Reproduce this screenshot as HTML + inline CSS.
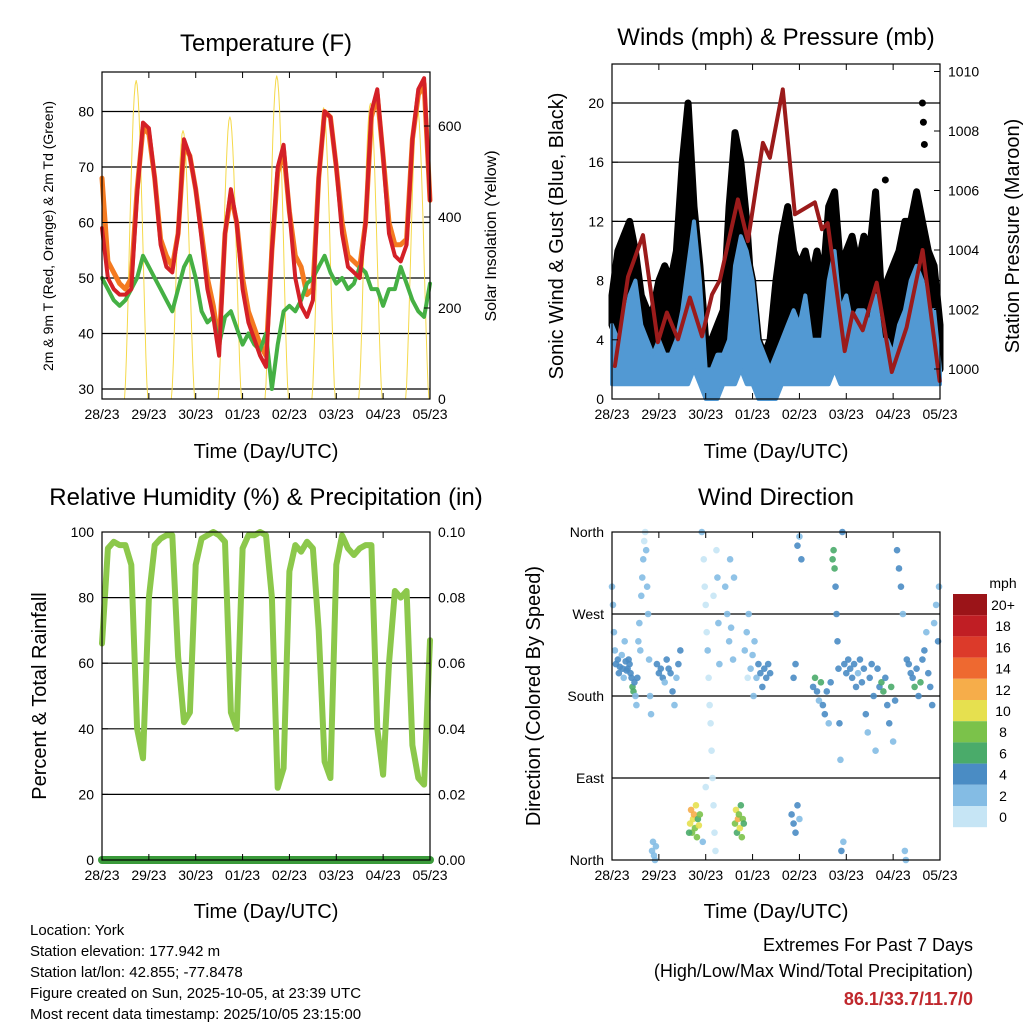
<!DOCTYPE html>
<html><head><meta charset="utf-8"><style>
html,body{margin:0;padding:0;background:#fff;}
svg{display:block;font-family:"Liberation Sans",sans-serif;}
</style></head><body>
<svg id="c" width="1024" height="1024" viewBox="0 0 1024 1024">
<rect width="1024" height="1024" fill="#fff"/>
<text x="266" y="51" font-size="24" text-anchor="middle">Temperature (F)</text>
<text x="776" y="45" font-size="24" text-anchor="middle">Winds (mph) &amp; Pressure (mb)</text>
<text x="266" y="505" font-size="24" text-anchor="middle">Relative Humidity (%) &amp; Precipitation (in)</text>
<text x="776" y="505" font-size="24" text-anchor="middle">Wind Direction</text>
<text x="266" y="458" font-size="20" text-anchor="middle">Time (Day/UTC)</text>
<text x="776" y="458" font-size="20" text-anchor="middle">Time (Day/UTC)</text>
<text x="266" y="918" font-size="20" text-anchor="middle">Time (Day/UTC)</text>
<text x="776" y="918" font-size="20" text-anchor="middle">Time (Day/UTC)</text>
<text transform="translate(53,236) rotate(-90)" font-size="14" text-anchor="middle">2m &amp; 9m T (Red, Orange) &amp; 2m Td (Green)</text>
<text transform="translate(496,236) rotate(-90)" font-size="16" text-anchor="middle">Solar Insolation (Yellow)</text>
<text transform="translate(563,236) rotate(-90)" font-size="20" text-anchor="middle">Sonic Wind &amp; Gust (Blue, Black)</text>
<text transform="translate(1019,236) rotate(-90)" font-size="20" text-anchor="middle">Station Pressure (Maroon)</text>
<text transform="translate(46,696) rotate(-90)" font-size="20" text-anchor="middle">Percent &amp; Total Rainfall</text>
<text transform="translate(540,696) rotate(-90)" font-size="20" text-anchor="middle">Direction (Colored By Speed)</text>
<g font-size="15">
<text x="30" y="935">Location: York</text>
<text x="30" y="956">Station elevation: 177.942 m</text>
<text x="30" y="977">Station lat/lon: 42.855; -77.8478</text>
<text x="30" y="998">Figure created on Sun, 2025-10-05, at 23:39 UTC</text>
<text x="30" y="1019">Most recent data timestamp: 2025/10/05 23:15:00</text>
</g>
<g font-size="18" text-anchor="end">
<text x="973" y="951">Extremes For Past 7 Days</text>
<text x="973" y="977">(High/Low/Max Wind/Total Precipitation)</text>
<text x="973" y="1005" fill="#c0282d" font-weight="bold">86.1/33.7/11.7/0</text>
</g>
<g id="layer"></g>
</svg>
<script>
const dayLabels=["28/23","29/23","30/23","01/23","02/23","03/23","04/23","05/23"];
const tempRed=[59,50,48,47,47,48,65,78,77,68,56,52,51,58,75,72,66,57,48,43,36,58,66,60,48,42,39,36,34,55,70,74,62,50,45,43,46,68,80,79,70,58,52,51,50,60,80,84,72,58,54,53,56,75,84,86,64];
const tempOrange=[68,53,51,49,48,50,66,77,76,68,57,54,52,58,74,72,66,58,50,45,38,58,65,60,50,44,41,38,36,55,69,73,62,54,52,47,48,68,80,79,70,60,54,53,52,60,79,83,72,60,56,56,57,75,83,85,64];
const dewGreen=[50,48,46,45,46,48,50,54,52,50,48,46,44,48,52,54,50,44,42,43,38,43,44,41,38,40,38,37,40,30,38,44,45,44,46,49,50,52,54,51,49,50,48,49,52,51,48,48,45,48,48,52,49,46,44,43,49];
const solarPeaks=[700,590,620,710,640,650,640];
const windBlue=[5,4,5,7,8,5,4,3,4,3,3,4,6,9,12,8,2,2,3,3,4,9,11,10,8,4,3,2,3,4,5,6,5,7,4,4,4,8,10,6,7,5,6,6,5,7,4,4,3,5,6,8,9,8,6,6,2];
const windLow=[1,1,1,1,1,1,1,1,1,1,1,1,1,1,2,1,0,0,0,1,1,1,2,1,1,0,0,0,0,1,1,1,1,1,1,1,1,1,2,1,1,1,1,1,1,1,1,1,1,1,1,1,1,1,1,1,1];
const gustBlack=[7,10,11,12,10,7,6,6,8,9,8,10,16,20,13,9,4,4,5,6,13,18,16,12,6,4,3,4,8,11,13,10,9,10,8,10,8,13,14,9,10,11,9,11,10,14,7,8,9,10,12,12,14,12,10,9,5];
const gustOutliers=[[159,20],[159.5,18.7],[160,17.2],[140,14.8]];
const pressHours=[1.5,8.2,15.9,23.5,28.1,33.8,39.9,46.1,51.2,55.3,64.5,69.6,77.3,80.9,87.5,93.7,103.9,107.5,110.5,119.2,123.3,128.4,135.6,143.3,150.9,159.1,167.8];
const pressVals=[1000.1,1003.1,1004.5,1000.9,1001.9,1001,1002.4,1001.1,1002.5,1003,1005.7,1004.3,1007.6,1007.1,1009.4,1005.2,1005.6,1004.7,1004.9,1000.6,1001.9,1001.3,1002.9,999.9,1001.4,1004,999.6];
const rhVals=[66,95,97,96,96,90,40,31,80,96,98,99,99,62,42,45,90,98,99,100,99,97,45,40,95,99,99,100,99,80,22,28,88,96,94,97,95,70,30,25,90,99,95,93,95,96,96,40,26,60,82,80,82,35,25,23,67];
const dirPts=[[0,300,2],[0.5,280,2],[1,250,2],[1.5,230,2],[2,215,4],[3,220,4],[3.5,205,4],[4,212,4],[5,225,2],[5.5,210,4],[6,200,2],[6.5,240,2],[7,218,4],[7.5,208,4],
[8,210,4],[8.5,220,4],[9,215,4],[9.5,205,4],[10,200,4],[10.5,190,6],[11,185,6],[11.5,195,4],[12,180,2],[12.5,170,2],[13,200,4],[13.5,240,2],[14,260,2],[14.5,230,2],
[15,290,2],[15.5,310,2],[16,330,2],[16.5,350,0],[17,360,0],[17.5,340,2],[18,300,2],[18.5,270,2],[19,220,2],[19.5,180,2],[20,160,2],[20.5,10,2],[21,20,2],[21.5,5,2],[22,0,2],[22.5,15,2],
[23,215,4],[24,205,4],[25,210,4],[26,200,4],[27,195,2],[28,220,4],[29,210,4],[30,205,4],[31,185,4],[32,170,2],[33,200,2],[34,215,4],[35,230,4],
[40,40,10],[40.5,55,12],[41,30,8],[41.5,45,10],[42,50,12],[42.5,35,8],[43,60,10],[43.5,25,8],[44,45,6],[44.5,38,10],[45,50,8],[39.5,30,6],
[46,360,2],[47,330,0],[47.5,300,0],[48,280,0],[48.5,250,0],[49,230,2],[49.5,200,0],[50,170,0],[50.5,150,0],[51,120,0],[51.5,90,0],[52,60,0],[52.5,30,0],[53,10,0],[53.5,340,0],[54,310,2],[54.5,260,2],[55,215,2],[46.5,20,2],[48,80,0],[52,290,0],
[63,40,8],[63.5,55,10],[64,30,6],[64.5,45,12],[65,50,8],[65.5,35,10],[66,60,6],[66.5,25,8],[67,45,8],[67.5,40,6],
[58,300,2],[59,270,2],[60,240,2],[61,255,2],[62,220,2],[68,230,2],[69,250,2],[70,270,2],[71,210,2],[72,225,2],[73,240,2],[74,200,2],[75,215,4],[76,205,4],[77,190,4],[78,210,4],[79,200,4],[80,215,4],[81,205,4],[60.5,330,2],[62.5,310,2],[69.5,200,0],[72.5,180,2],
[92,50,4],[93,40,4],[94,30,4],[95,60,4],[96,45,2],[93,200,4],[94,215,4],[95,345,4],[96,355,2],[97,330,4],
[103,190,4],[104,200,6],[105,185,4],[106,175,2],[107,195,6],[108,170,4],[109,160,4],[110,185,4],[111,150,2],[112,195,4],
[113,330,6],[113.5,340,6],[114,320,6],[114.5,300,4],[115,270,4],[115.5,240,4],[116,210,4],[116.5,150,4],[117,110,2],[117.5,10,4],[118,360,4],[118.5,20,2],[119,215,4],[120,205,4],[121,220,4],
[122,210,4],[123,200,4],[124,215,4],[125,190,4],[126,205,2],[127,220,4],[128,195,4],[129,210,4],[130,160,4],[131,140,2],[132,200,4],[133,215,4],[134,180,4],[135,120,2],[136,210,4],[137,190,4],
[138,195,6],[139,185,6],[140,200,4],[141,170,4],[142,150,4],[143,190,6],[144,130,2],[145,175,4],
[146,340,4],[147,320,4],[148,300,4],[149,270,2],[150,10,2],[150.5,0,2],[151,220,4],
[152,215,4],[153,205,4],[154,200,4],[155,190,6],[156,210,4],[157,180,4],[158,195,6],[159,220,4],[160,230,4],[161,250,2],[162,205,4],[163,190,4],[164,170,4],[165,260,2],[166,280,2],[167,240,4],[167.5,300,2]];
const speedLabels=["20+","18","16","14","12","10","8","6","4","2","0"];
const speedColors=["#9b1418","#c01e24","#dc3a2a","#ee6930","#f6ad4a","#e6e04f","#7bc24a","#4aab6a","#4a8cc4","#84bce4","#c6e5f5"];

const NS="http://www.w3.org/2000/svg";
const L=document.getElementById('layer');
function mk(tag,a,parent){const e=document.createElementNS(NS,tag);for(const k in a)e.setAttribute(k,a[k]);(parent||L).appendChild(e);return e;}
function txt(x,y,s,size,anchor){const t=mk('text',{x:x,y:y,'font-size':size,'text-anchor':anchor});t.textContent=s;return t;}

function panel(name,x0,x1,y0,y1){
  return {x0,x1,y0,y1,name,
    tx:h=>x0+(x1-x0)*h/168,
    ix:i=>x0+(x1-x0)*i/56};
}
function xAxis(p){
  for(let d=0;d<8;d++){
    const x=p.tx(d*24);
    const l=mk('line',{x1:x,x2:x,y1:p.y1,y2:p.y1-6,stroke:'#000','stroke-width':1});
    
    
    const l2=mk('line',{x1:x,x2:x,y1:p.y0,y2:p.y0+6,stroke:'#000','stroke-width':1});
    
    
    const t=txt(x,p.y1+20,dayLabels[d],14,'middle');
    
    
  }
}
function yAxis(p,vals,fy,side,labels){
  vals.forEach((v,k)=>{
    const y=fy(v);
    const x=side==='l'?p.x0:p.x1;
    const l=mk('line',{x1:x,x2:side==='l'?x+6:x-6,y1:y,y2:y,stroke:'#000','stroke-width':1});
    
    
    const t=txt(side==='l'?x-8:x+8,y+5,labels?labels[k]:String(v),14,side==='l'?'end':'start');
    
    
  });
}
function grid(p,ys){
  ys.forEach(y=>{const g=mk('line',{x1:p.x0,x2:p.x1,y1:y,y2:y,stroke:'#000','stroke-width':1.2});
    
    });
}
function frame(p){
  const r=mk('rect',{x:p.x0,y:p.y0,width:p.x1-p.x0,height:p.y1-p.y0,fill:'none',stroke:'#000','stroke-width':1.2});
  
  
}
function line(pts,color,w,name){
  const e=mk('polyline',{points:pts.map(q=>q[0].toFixed(1)+','+q[1].toFixed(1)).join(' '),fill:'none',stroke:color,'stroke-width':w,'stroke-linejoin':'round','stroke-linecap':'round'});
  
  
  return e;
}

// Temperature panel
const P1=panel('temp',102,430,72,399);
const ty=v=>389-(v-30)*5.55;
const sy=v=>399-v*0.455;
grid(P1,[30,40,50,60,70,80].map(ty));
solarPeaks.forEach((pk,d)=>{
  const pts=[];const c=d*24+17.5;
  for(let k=0;k<=24;k++){const h=c-6+k*0.5;const v=pk*Math.pow(Math.sin(Math.PI*k/24),1.5);pts.push([P1.tx(h),sy(v)]);}
  line(pts,'#f5d94a',1,'solar-insolation-line');
});
line(tempOrange.map((v,i)=>[P1.ix(i),ty(v)]),'#f47a20',5,'temp-9m-line');
line(dewGreen.map((v,i)=>[P1.ix(i),ty(v)]),'#45b044',4,'dewpoint-line');
line(tempRed.map((v,i)=>[P1.ix(i),ty(v)]),'#d42027',4,'temp-2m-line');
frame(P1);xAxis(P1);
yAxis(P1,[30,40,50,60,70,80],ty,'l');
yAxis(P1,[0,200,400,600],sy,'r');

// Wind panel
const P2=panel('wind',612,940,64,399);
const wy=v=>399-v*14.8;
const py=v=>369-(v-1000)*29.75;
grid(P2,[4,8,12,16,20].map(wy));
const gPoly=gustBlack.map((v,i)=>[P2.ix(i),wy(v)]).concat(windBlue.map((v,i)=>[P2.ix(i),wy(v)]).reverse());
const gp=line(gPoly.concat([gPoly[0]]),'#000',7,'gust-scatter');gp.setAttribute('fill','#000');
gustOutliers.forEach(o=>{const c=mk('circle',{cx:P2.tx(o[0]),cy:wy(o[1]),r:3.5,fill:'#000'});
  
  });
const bPoly=windBlue.map((v,i)=>[P2.ix(i),wy(v)]).concat(windLow.map((v,i)=>[P2.ix(i),wy(v)]).reverse());
const bp=line(bPoly.concat([bPoly[0]]),'#5299d3',4,'wind-band');bp.setAttribute('fill','#5299d3');
line(pressVals.map((v,k)=>[P2.tx(pressHours[k]),py(v)]),'#9b1b1b',4,'pressure-line');
frame(P2);xAxis(P2);
yAxis(P2,[0,4,8,12,16,20],wy,'l');
yAxis(P2,[1000,1002,1004,1006,1008,1010],py,'r');

// RH panel
const P3=panel('rh',102,430,532,860);
const ry=v=>860-v*3.28;
grid(P3,[20,40,60,80].map(ry));
line(rhVals.map((v,i)=>[P3.ix(i),ry(v)]),'#8cc84b',6,'rh-line');
line([[P3.x0,ry(0)],[P3.x1,ry(0)]],'#3a9a3a',8,'precip-line');
frame(P3);xAxis(P3);
yAxis(P3,[0,20,40,60,80,100],ry,'l');
yAxis(P3,[0,20,40,60,80,100],ry,'r',['0.00','0.02','0.04','0.06','0.08','0.10']);

// Direction panel
const P4=panel('dir',612,940,532,860);
const dy=v=>860-v*328/360;
grid(P4,[270,180,90].map(dy));
const colFor=s=>speedColors[10-Math.min(10,Math.round(s/2))];
dirPts.forEach(p=>{const c=mk('circle',{cx:P4.tx(p[0]),cy:dy(p[1]),r:3.3,fill:colFor(p[2]),'fill-opacity':0.9});
  
  });
frame(P4);xAxis(P4);
yAxis(P4,[360,270,180,90,0],dy,'l',['North','West','South','East','North']);
const cbt=txt(1003,588,'mph',14,'middle');


speedLabels.forEach((s,k)=>{
  const r=mk('rect',{x:953,y:594+k*21.2,width:34,height:21.2,fill:speedColors[k]});
  
  
  const t=txt(1003,610+k*21.2,s,14,'middle');
  
  
});
</script>
</body></html>
